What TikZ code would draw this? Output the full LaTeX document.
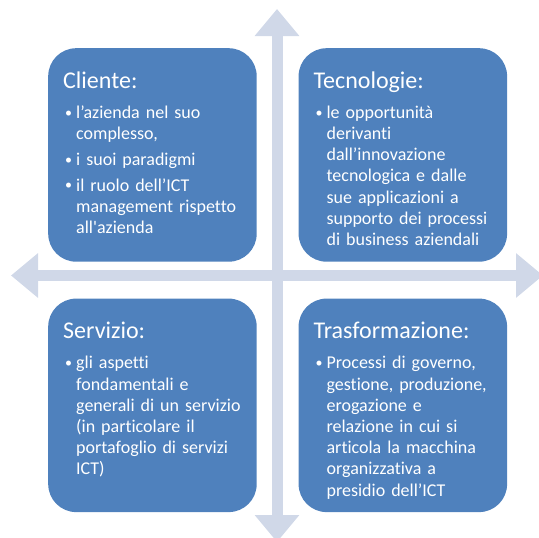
\documentclass[tikz,border=0pt]{standalone}
\usepackage{fontspec}
\setmainfont{Carlito}[Ligatures={TeX,NoCommon}]
\usepackage{tikz}
\usetikzlibrary{positioning, arrows.meta}

\definecolor{boxblue}{RGB}{79,129,189}
\definecolor{axisgray}{RGB}{208,216,232}

\newcommand{\bitem}[1]{\par\noindent\hbox to 11pt{\raisebox{1pt}{\fontsize{14}{14}\selectfont\textbullet}\hfil}%
  \begin{tabular}[t]{@{}l@{}}#1\end{tabular}\par}

\begin{document}
\begin{tikzpicture}
        [x=1pt, y=-1pt,
        quadrant/.style={fill=boxblue, rounded corners=28pt, minimum width=208.5pt,
          minimum height=213.5pt, inner sep=0pt},
        heading/.style={text=white, font=\fontsize{24}{28}\selectfont,
          inner sep=0pt, anchor=base west},
        bullets/.style={text=white, font={\fontsize{18}{21.2}\selectfont\setlength{\parskip}{4pt}},
          inner sep=0pt, anchor=north west, text width=195pt}]

    \useasboundingbox (0,0) rectangle (539,538);

    % the two axes behind the quadrants
    \tikzset{axisarrow/.style={axisgray, line width=11pt,
        {Triangle[width=43pt,length=27pt]}-{Triangle[width=43pt,length=27pt]}}}
    \coordinate (axis top) at (277,9);
    \coordinate (axis bottom) at (277,542);
    \coordinate (axis left) at (11,275.5);
    \coordinate (axis right) at (543,275.5);
    \draw[axisarrow] (axis bottom) -- (axis top);
    \draw[axisarrow] (axis left) -- (axis right);

    \node[quadrant, anchor=north west] (cliente) at (48,48) {};
    \node[quadrant, right=41.5pt of cliente] (tecnologie) {};
    \node[quadrant, below=36.5pt of cliente] (servizio) {};
    \node[quadrant, below=36.5pt of tecnologie] (trasformazione) {};

    \node[heading] (cliente title) at ([xshift=15pt,yshift=-40.5pt]cliente.north west) {Cliente:};
    \node[bullets] (cliente text) at ([xshift=17pt,yshift=-45pt]cliente.north west)
      {\bitem{l’azienda nel suo\\complesso,}
       \bitem{i suoi paradigmi}
       \bitem{il ruolo dell’ICT\\management rispetto\\all\textquotesingle azienda}};

    \node[heading] (tecnologie title) at ([xshift=15pt,yshift=-40.5pt]tecnologie.north west) {Tecnologie:};
    \node[bullets] (tecnologie text) at ([xshift=17pt,yshift=-45pt]tecnologie.north west)
      {\bitem{le opportunità\\derivanti\\dall’innovazione\\tecnologica e dalle\\sue applicazioni a\\supporto dei processi\\di business aziendali}};

    \node[heading] (servizio title) at ([xshift=15pt,yshift=-40.5pt]servizio.north west) {Servizio:};
    \node[bullets] (servizio text) at ([xshift=17pt,yshift=-45pt]servizio.north west)
      {\bitem{gli aspetti\\fondamentali e\\generali di un servizio\\(in particolare il\\portafoglio di servizi\\ICT)}};

    \node[heading] (trasformazione title) at ([xshift=15pt,yshift=-40.5pt]trasformazione.north west) {Trasformazione:};
    \node[bullets] (trasformazione text) at ([xshift=17pt,yshift=-45pt]trasformazione.north west)
      {\bitem{Processi di governo,\\gestione, produzione,\\erogazione e\\relazione in cui si\\articola la macchina\\organizzativa a\\presidio dell’ICT}};
\end{tikzpicture}
\end{document}
